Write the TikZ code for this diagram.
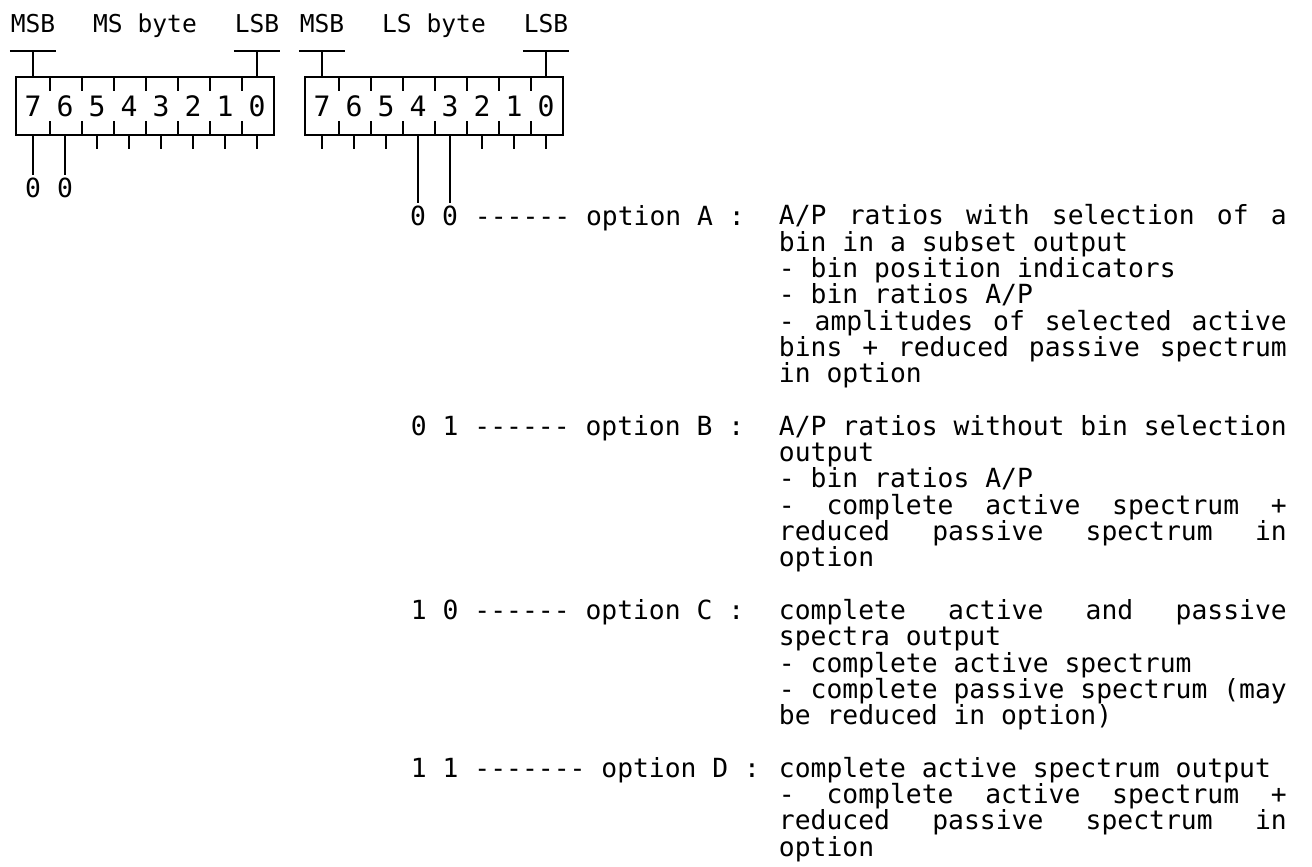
\documentclass[tikz,border=0pt]{standalone}
\usepackage{fontspec}
\setmonofont{DejaVu Sans Mono}
\usepackage{tikz}
\usetikzlibrary{positioning}

% one justified line of 32 columns
\newcommand{\jline}[1]{\makebox[32\fontcharwd\font`0][s]{\spaceskip=\fontdimen2\font plus 1fil\relax #1}}

\begin{document}
\frenchspacing
\begin{tikzpicture}[
    line width=1.1pt,
    lbl/.style={
        font=\ttfamily\fontsize{14}{14}\selectfont,
        inner sep=0pt,
        text depth=0.34cm,
        anchor=base
    },
    bitcell/.style={
        minimum width=0.64cm,
        minimum height=1.12cm,
        inner sep=0pt,
        font=\ttfamily\fontsize{16}{16}\selectfont
    },
    bitval/.style={
        font=\ttfamily\fontsize{15}{15}\selectfont,
        inner xsep=0pt,
        inner ysep=1pt,
        anchor=base
    },
    optrow/.style={
        font=\ttfamily\fontsize{15}{14.97}\selectfont,
        inner sep=0pt,
        anchor=base west
    },
    % base of a block is the baseline of its last line
    desc/.style={optrow, align=left}
]
\useasboundingbox (0,0) rectangle (26.24,-17.32);

% MS byte
\node[bitcell] (ms7) at (0.66,-2.12) {7};
\node[bitcell] (ms6) at (1.30,-2.12) {6};
\node[bitcell] (ms5) at (1.94,-2.12) {5};
\node[bitcell] (ms4) at (2.58,-2.12) {4};
\node[bitcell] (ms3) at (3.22,-2.12) {3};
\node[bitcell] (ms2) at (3.86,-2.12) {2};
\node[bitcell] (ms1) at (4.50,-2.12) {1};
\node[bitcell] (ms0) at (5.14,-2.12) {0};
\draw (ms7.north west) rectangle (ms0.south east);
\draw (ms7.north east) -- ++(0,-0.28) (ms6.north east) -- ++(0,-0.28)
      (ms5.north east) -- ++(0,-0.28) (ms4.north east) -- ++(0,-0.28)
      (ms3.north east) -- ++(0,-0.28) (ms2.north east) -- ++(0,-0.28)
      (ms1.north east) -- ++(0,-0.28);
\draw (ms7.south east) -- ++(0,0.28) (ms6.south east) -- ++(0,0.28)
      (ms5.south east) -- ++(0,0.28) (ms4.south east) -- ++(0,0.28)
      (ms3.south east) -- ++(0,0.28) (ms2.south east) -- ++(0,0.28)
      (ms1.south east) -- ++(0,0.28);
\draw (ms5.south) -- ++(0,-0.28) (ms4.south) -- ++(0,-0.28)
      (ms3.south) -- ++(0,-0.28) (ms2.south) -- ++(0,-0.28)
      (ms1.south) -- ++(0,-0.28) (ms0.south) -- ++(0,-0.28);

% LS byte
\node[bitcell] (ls7) at (6.44,-2.12) {7};
\node[bitcell] (ls6) at (7.08,-2.12) {6};
\node[bitcell] (ls5) at (7.72,-2.12) {5};
\node[bitcell] (ls4) at (8.36,-2.12) {4};
\node[bitcell] (ls3) at (9.00,-2.12) {3};
\node[bitcell] (ls2) at (9.64,-2.12) {2};
\node[bitcell] (ls1) at (10.28,-2.12) {1};
\node[bitcell] (ls0) at (10.92,-2.12) {0};
\draw (ls7.north west) rectangle (ls0.south east);
\draw (ls7.north east) -- ++(0,-0.28) (ls6.north east) -- ++(0,-0.28)
      (ls5.north east) -- ++(0,-0.28) (ls4.north east) -- ++(0,-0.28)
      (ls3.north east) -- ++(0,-0.28) (ls2.north east) -- ++(0,-0.28)
      (ls1.north east) -- ++(0,-0.28);
\draw (ls7.south east) -- ++(0,0.28) (ls6.south east) -- ++(0,0.28)
      (ls5.south east) -- ++(0,0.28) (ls4.south east) -- ++(0,0.28)
      (ls3.south east) -- ++(0,0.28) (ls2.south east) -- ++(0,0.28)
      (ls1.south east) -- ++(0,0.28);
\draw (ls7.south) -- ++(0,-0.28) (ls6.south) -- ++(0,-0.28)
      (ls5.south) -- ++(0,-0.28) (ls2.south) -- ++(0,-0.28)
      (ls1.south) -- ++(0,-0.28) (ls0.south) -- ++(0,-0.28);

% labels above
\node[lbl] (msmsb) at (0.66,-0.66) {MSB};
\node[lbl] (msname) at (2.90,-0.66) {MS byte};
\node[lbl] (mslsb) at (5.14,-0.66) {LSB};
\node[lbl] (lsmsb) at (6.44,-0.66) {MSB};
\node[lbl] (lsname) at (8.68,-0.66) {LS byte};
\node[lbl] (lslsb) at (10.92,-0.66) {LSB};

\draw (msmsb.south west) -- (msmsb.south east) (msmsb.south) -- (ms7.north);
\draw (mslsb.south west) -- (mslsb.south east) (mslsb.south) -- (ms0.north);
\draw (lsmsb.south west) -- (lsmsb.south east) (lsmsb.south) -- (ls7.north);
\draw (lslsb.south west) -- (lslsb.south east) (lslsb.south) -- (ls0.north);

% fixed bits
\node[bitval] (msv7) at (0.66,-3.94) {0};
\node[bitval] (msv6) at (1.30,-3.94) {0};
\draw (ms7.south) -- (msv7.north);
\draw (ms6.south) -- (msv6.north);

\node[bitval] (lsv4) at (8.36,-4.50) {0};
\node[bitval] (lsv3) at (9.00,-4.50) {0};
\draw (ls4.south) -- (lsv4.north);
\draw (ls3.south) -- (lsv3.north);

% options
\node[optrow] (optA) at (9.48,-4.50) {------ option A :};
\node[optrow] (optB) at (8.20,-8.708) {0 1 ------ option B :};
\node[optrow] (optC) at (8.20,-12.39) {1 0 ------ option C :};
\node[optrow] (optD) at (8.20,-15.546) {1 1 ------- option D :};

\node[desc] (descA) at (15.56,-7.656)
{\jline{A/P ratios with selection of a}\\
bin in a subset output\\
- bin position indicators\\
- bin ratios A/P\\
\jline{- amplitudes of selected active}\\
\jline{bins + reduced passive spectrum}\\
in option};

\node[desc] (descB) at (15.56,-11.338)
{\jline{A/P ratios without bin selection}\\
output\\
- bin ratios A/P\\
\jline{- complete active spectrum +}\\
\jline{reduced passive spectrum in}\\
option};

\node[desc] (descC) at (15.56,-14.494)
{\jline{complete active and passive}\\
spectra output\\
- complete active spectrum\\
- complete passive spectrum (may\\
be reduced in option)};

\node[desc] (descD) at (15.56,-17.124)
{complete active spectrum output\\
\jline{- complete active spectrum +}\\
\jline{reduced passive spectrum in}\\
option};

\end{tikzpicture}
\end{document}
